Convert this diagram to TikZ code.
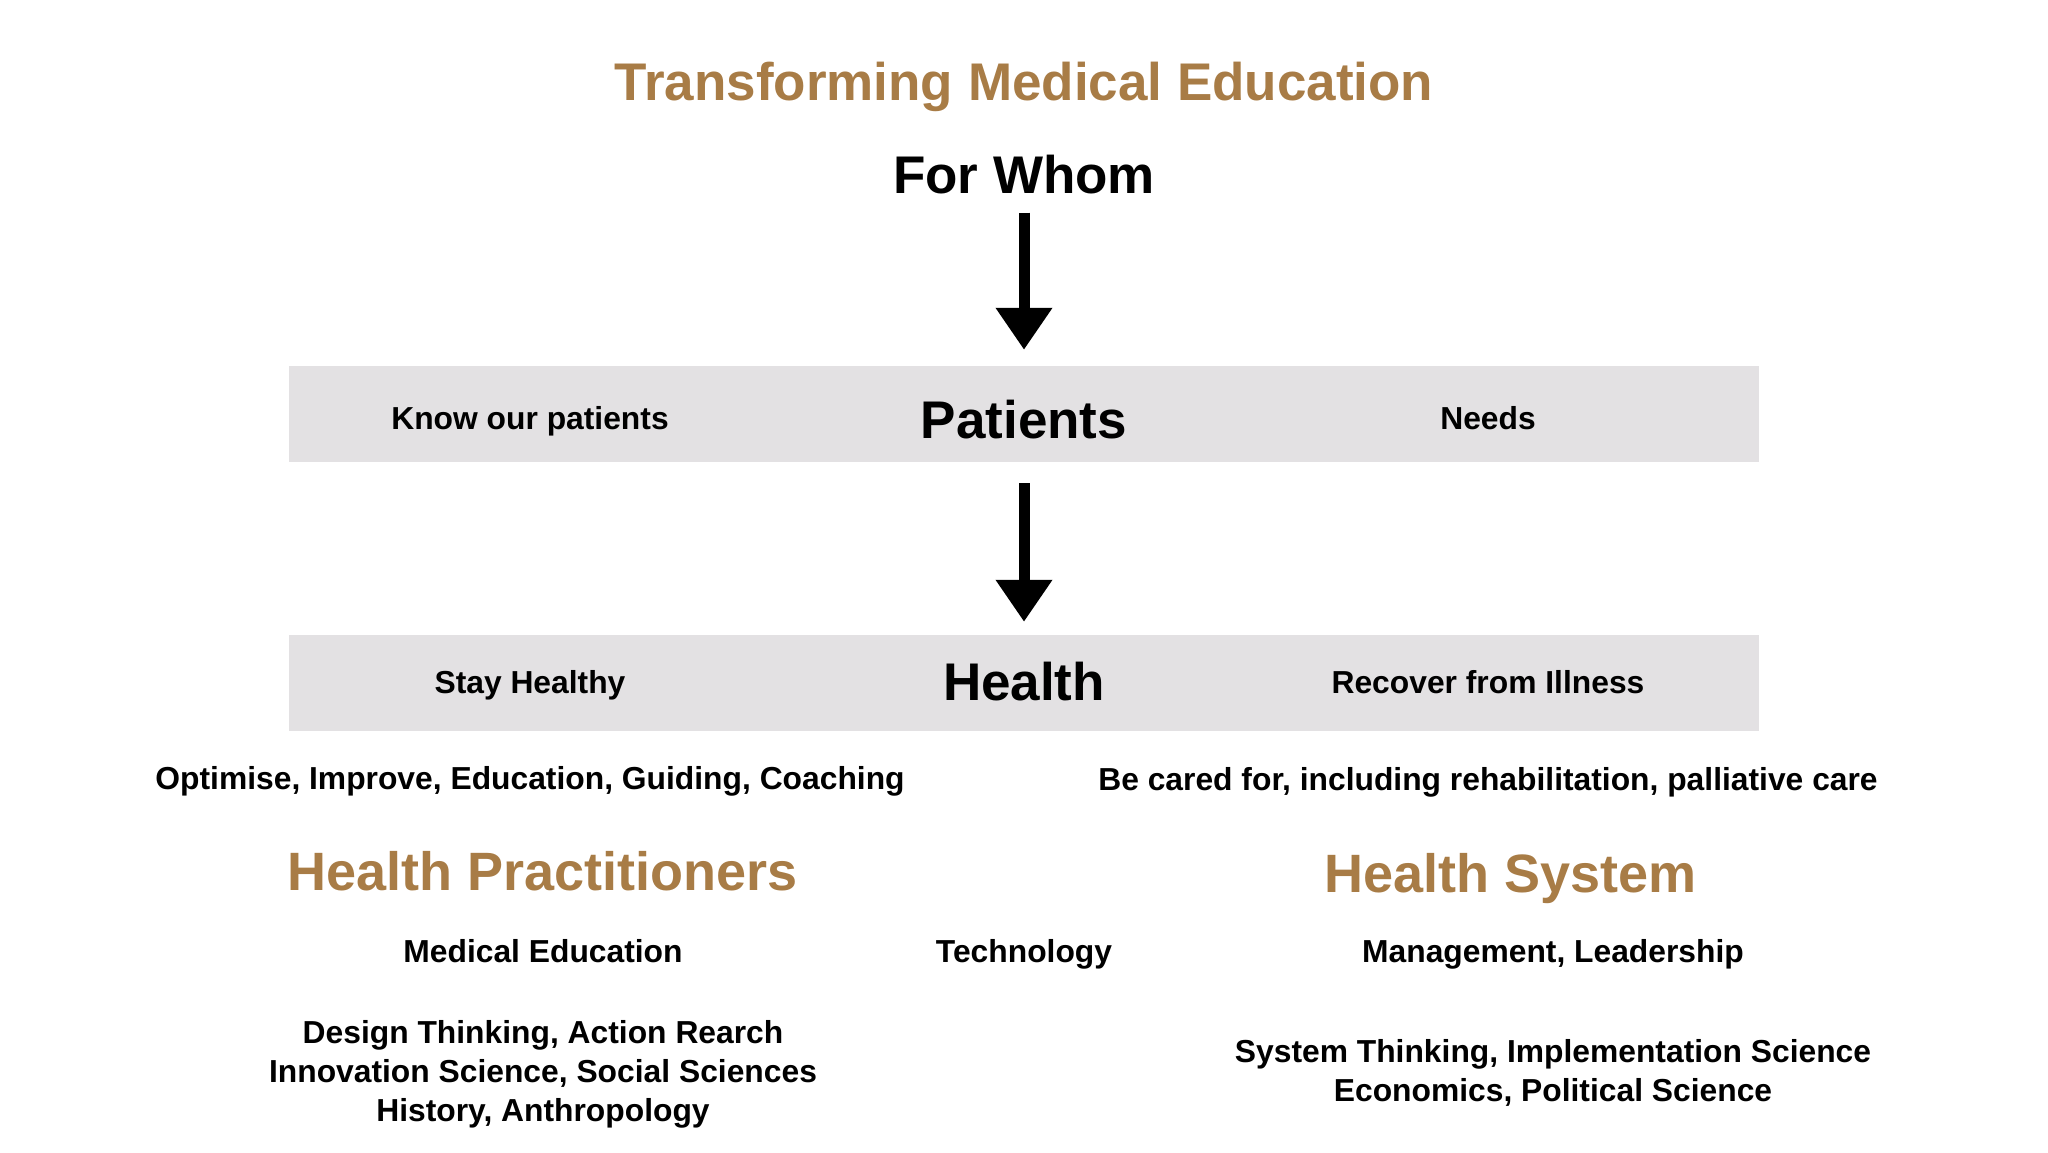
\documentclass[tikz,border=0pt]{standalone}
\usepackage{fontspec}
\setmainfont{Liberation Sans}
\usetikzlibrary{positioning, arrows.meta}
\definecolor{titlegold}{RGB}{168,124,70}
\definecolor{bargray}{RGB}{227,225,227}

\begin{document}
\begin{tikzpicture}[x=1pt, y=-1pt,
        every node/.style={inner sep=0pt},
        small/.style={font=\fontsize{31.8}{39}\selectfont\bfseries, align=center},
        big/.style={font=\fontsize{53}{60}\selectfont\bfseries},
        heading/.style={font=\fontsize{54}{60}\selectfont\bfseries, text=titlegold},
        bar/.style={fill=bargray, draw=none,
                    minimum width=1470pt, minimum height=96pt},
        thickarrow/.style={line width=11pt,
                    -{Triangle[length=42pt, width=54pt]}}]
        \useasboundingbox (0,0) rectangle (2048,1152);

        % title and question
        \node[heading, font=\fontsize{53}{60}\selectfont\bfseries] (title) at (1024,87) {Transforming Medical Education};
        \node[big] (forwhom) at (1024,175) {For Whom};

        % grey bars
        \node[bar] (patbar) at (1024,414) {};
        \node[bar] (healthbar) at (1024,683) {};

        \node[big] (patients) at (1024,420) {Patients};
        \node[small] (know) at (530,421) {Know our patients};
        \node[small] (needs) at (1488,418) {Needs};

        \node[big] (health) at (1024,682) {Health};
        \node[small] (stay) at (530,685) {Stay Healthy};
        \node[small] (recover) at (1488,682) {Recover from Illness};

        \node[small,
              below=96pt of stay.center,
              anchor=center] (optimise) {Optimise, Improve, Education, Guiding, Coaching};
        \node[small,
              below=100pt of recover.center,
              anchor=center] (cared) {Be cared for, including rehabilitation, palliative care};

        % lower columns
        \node[heading] (practitioners) at (543,871) {Health Practitioners};
        \node[heading] (system) at (1511,879) {Health System};

        \node[small] (mededu) at (543,951) {Medical Education};
        \node[small] (technology) at (1024,954) {Technology};
        \node[small] (management) at (1553,954) {Management, Leadership};

        \node[small] (design) at (543,1074) {Design Thinking, Action Rearch\\Innovation Science, Social Sciences\\History, Anthropology};
        \node[small] (systhink) at (1553,1073) {System Thinking, Implementation Science\\Economics, Political Science};

        % arrows
        \draw[thickarrow] ([yshift=-18pt]forwhom.south) -- ([yshift=16pt]patbar.north);
        \draw[thickarrow] ([yshift=-21pt]patbar.south) -- ([yshift=13pt]healthbar.north);
\end{tikzpicture}
\end{document}
